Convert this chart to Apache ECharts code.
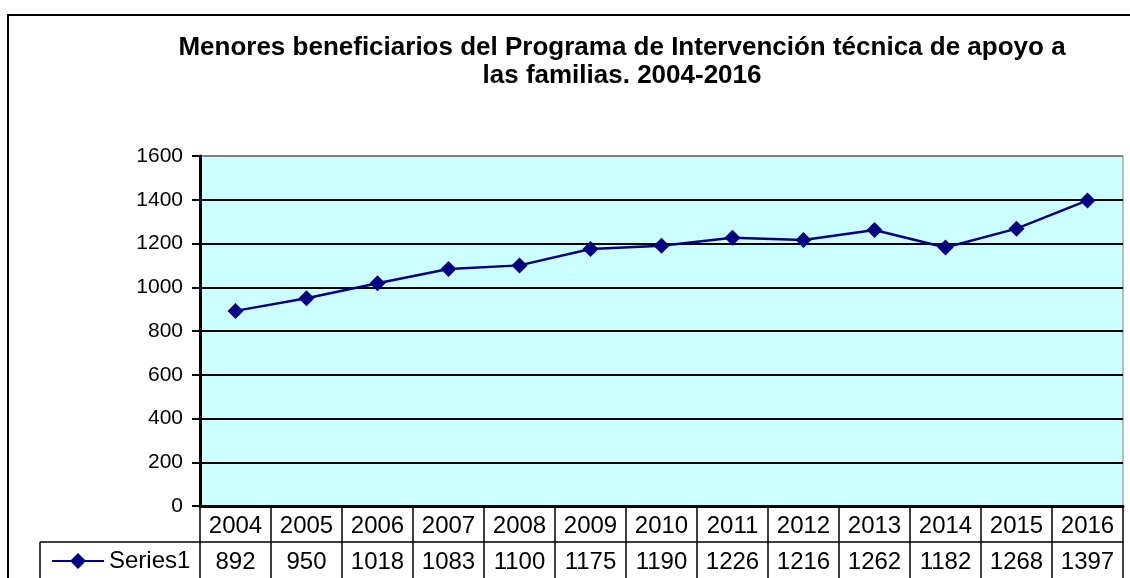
<!DOCTYPE html>
<html>
<head>
<meta charset="utf-8">
<script src="https://cdn.jsdelivr.net/npm/echarts@6/dist/echarts.min.js"></script>
<style>
  html, body { margin: 0; padding: 0; background: #fff; }
  #chart { width: 1130px; height: 578px; }
</style>
</head>
<body>
<div id="chart"></div>
<script>
// ===== Data =====
const years = ['2004', '2005', '2006', '2007', '2008', '2009', '2010', '2011', '2012', '2013', '2014', '2015', '2016'];
const series1 = [892, 950, 1018, 1083, 1100, 1175, 1190, 1226, 1216, 1262, 1182, 1268, 1397];
const titleLines = ['Menores beneficiarios del Programa de Intervención técnica de apoyo a', 'las familias. 2004-2016'];
const FONT = '"Liberation Sans", Arial, sans-serif';

// ===== Chart =====
const chart = echarts.init(document.getElementById('chart'));

// split line colours: black, top one grey (plot border)
const splitColors = ['#000', '#000', '#000', '#000', '#000', '#000', '#000', '#000', '#808080'];

chart.setOption({
  animation: false,
  title: {
    text: titleLines.join('\n'),
    left: 617, top: 29, textAlign: 'center',
    textStyle: { fontFamily: FONT, fontSize: 26, fontWeight: 'bold', color: '#000', lineHeight: 28 }
  },
  legend: {
    left: 46, top: 544,
    itemWidth: 52, itemHeight: 20, itemGap: 0,
    textStyle: { fontFamily: FONT, fontSize: 24, color: '#000', padding: [0, 0, 0, 0] },
    data: ['Series1']
  },
  grid: {
    left: 200, right: 7, top: 156, bottom: 72,
    show: true, backgroundColor: '#CCFFFF', borderColor: '#808080', borderWidth: 1
  },
  xAxis: [
    {
      type: 'category', data: years, position: 'bottom', boundaryGap: true,
      axisLine: { show: true, lineStyle: { color: '#000', width: 3 } },
      axisTick: { show: true, interval: 0, length: 36, lineStyle: { color: '#000', width: 1.5 } },
      axisLabel: { interval: 0, margin: 8, fontFamily: FONT, fontSize: 24, color: '#000' }
    },
    {
      type: 'category', data: series1.map(String), position: 'bottom', offset: 36, boundaryGap: true,
      axisLine: { show: true, lineStyle: { color: '#000', width: 1.5 } },
      axisTick: { show: true, interval: 0, length: 40, lineStyle: { color: '#000', width: 1.5 } },
      axisLabel: { interval: 0, margin: 8, fontFamily: FONT, fontSize: 24, color: '#000' }
    }
  ],
  yAxis: {
    type: 'value', min: 0, max: 1600, interval: 200,
    axisLine: { show: true, lineStyle: { color: '#000', width: 3 } },
    axisTick: { show: true, length: 8, lineStyle: { color: '#000', width: 2 } },
    axisLabel: { margin: 17, fontFamily: FONT, fontSize: 21, color: '#000', formatter: v => String(v) },
    splitLine: { show: true, lineStyle: { color: splitColors, width: 2 } }
  },
  series: [{
    name: 'Series1', type: 'line', xAxisIndex: 0, data: series1,
    symbol: 'diamond', symbolSize: 16,
    lineStyle: { color: '#000080', width: 2.5 },
    itemStyle: { color: '#000080' }
  }],
  graphic: [
    // outer chart frame
    { type: 'rect', shape: { x: 8, y: 15, width: 1140, height: 600 }, style: { fill: null, stroke: '#000', lineWidth: 2 }, silent: true },
    // legend cell of the data table
    { type: 'line', shape: { x1: 40, y1: 542, x2: 200, y2: 542 }, style: { stroke: '#000', lineWidth: 1.5 }, silent: true },
    { type: 'line', shape: { x1: 40, y1: 542, x2: 40, y2: 580 }, style: { stroke: '#000', lineWidth: 1.5 }, silent: true }
  ]
});
</script>
</body>
</html>
